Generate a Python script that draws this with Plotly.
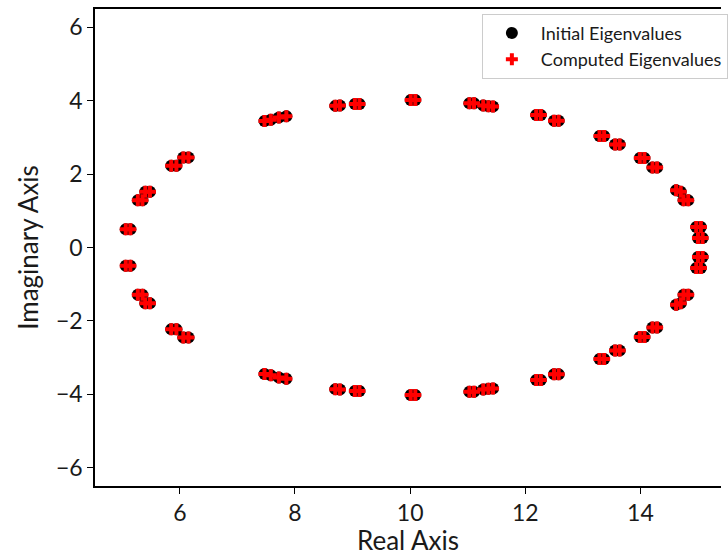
import plotly.graph_objects as go

# Eigenvalues (real part, imaginary part)
initial_real = [
    5.06, 5.14, 5.27, 5.35, 5.40, 5.48, 5.85, 5.94, 6.06, 6.15,
    7.47, 7.58, 7.72, 7.85, 8.70, 8.78, 9.04, 9.12, 10.01, 10.09,
    11.03, 11.11, 11.27, 11.36, 11.44, 12.19, 12.27, 12.50, 12.58,
    13.29, 13.37, 13.56, 13.64, 13.99, 14.07, 14.21, 14.29,
    14.62, 14.70, 14.75, 14.83, 14.97, 15.05, 15.00, 15.08,
    5.06, 5.14, 5.27, 5.35, 5.40, 5.48, 5.85, 5.94, 6.06, 6.15,
    7.47, 7.58, 7.72, 7.85, 8.70, 8.78, 9.04, 9.12, 10.01, 10.09,
    11.03, 11.11, 11.27, 11.36, 11.44, 12.19, 12.27, 12.50, 12.58,
    13.29, 13.37, 13.56, 13.64, 13.99, 14.07, 14.21, 14.29,
    14.62, 14.70, 14.75, 14.83, 14.97, 15.05, 15.00, 15.08,
]
initial_imag = [
    0.50, 0.50, 1.29, 1.29, 1.52, 1.52, 2.23, 2.23, 2.45, 2.45,
    3.45, 3.48, 3.54, 3.58, 3.86, 3.87, 3.91, 3.91, 4.02, 4.02,
    3.93, 3.93, 3.87, 3.85, 3.84, 3.61, 3.61, 3.455, 3.455,
    3.04, 3.04, 2.81, 2.81, 2.44, 2.44, 2.18, 2.18,
    1.56, 1.52, 1.29, 1.29, 0.56, 0.56, 0.26, 0.26,
    -0.50, -0.50, -1.29, -1.29, -1.52, -1.52, -2.23, -2.23, -2.45, -2.45,
    -3.45, -3.48, -3.54, -3.58, -3.86, -3.87, -3.91, -3.91, -4.02, -4.02,
    -3.93, -3.93, -3.87, -3.85, -3.84, -3.61, -3.61, -3.455, -3.455,
    -3.04, -3.04, -2.81, -2.81, -2.44, -2.44, -2.18, -2.18,
    -1.56, -1.52, -1.29, -1.29, -0.56, -0.56, -0.26, -0.26,
]
computed_real = list(initial_real)
computed_imag = list(initial_imag)

x_ticks = [6, 8, 10, 12, 14]
y_ticks = [-6, -4, -2, 0, 2, 4, 6]

FONT = "Lato"

fig = go.Figure()
fig.add_trace(go.Scatter(
    x=initial_real, y=initial_imag, mode="markers", name="Initial Eigenvalues",
    marker=dict(symbol="circle", size=12, color="black"),
))
fig.add_trace(go.Scatter(
    x=computed_real, y=computed_imag, mode="markers", name="Computed Eigenvalues",
    marker=dict(symbol="cross", size=10, color="red"),
))

axis_common = dict(
    showgrid=False, zeroline=False, showline=True, linecolor="black", linewidth=1.5,
    ticks="outside", ticklen=6, tickwidth=1.3, tickcolor="black",
    tickfont=dict(family=FONT, size=23, color="#1a1a1a"),
)
fig.update_xaxes(
    range=[4.526, 15.40], tickvals=x_ticks, mirror=True,
    title=dict(text="Real Axis", font=dict(family=FONT, size=26, color="#1a1a1a"), standoff=4),
    **axis_common,
)
fig.update_yaxes(
    range=[-6.5, 6.5], tickvals=y_ticks, mirror=False,
    title=dict(text="Imaginary Axis", font=dict(family=FONT, size=26, color="#1a1a1a"), standoff=10),
    **axis_common,
)
fig.update_layout(
    width=728, height=556,
    margin=dict(l=95, r=0, t=9, b=70),
    plot_bgcolor="white", paper_bgcolor="white",
    showlegend=True,
    legend=dict(
        x=0.618, y=0.99, xanchor="left", yanchor="top",
        bgcolor="rgba(255,255,255,0.8)", bordercolor="#cccccc", borderwidth=1,
        font=dict(family=FONT, size=18, color="#1a1a1a"),
        itemwidth=48, tracegroupgap=0,
    ),
)
fig.write_html(
    "out.html",
    config={"displayModeBar": False},
    post_script="document.body.style.margin='0';document.body.style.overflow='hidden';",
)
